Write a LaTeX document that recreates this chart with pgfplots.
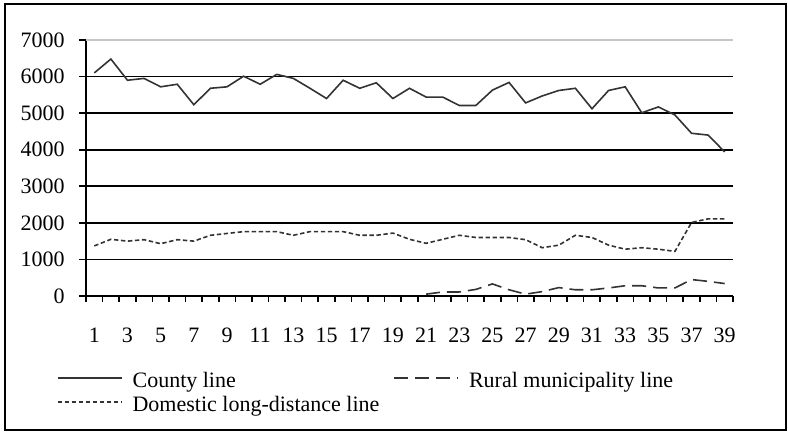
\documentclass[border=0pt]{standalone}
\usepackage{fontspec}
\setmainfont{Liberation Serif}
\usepackage{pgfplots}
\pgfplotsset{compat=1.18}
\definecolor{series}{HTML}{333333}

\begin{document}
\fontsize{11pt}{13pt}\selectfont
\begin{tikzpicture}
\begin{axis}[
  scale only axis, width=323.5pt, height=128pt,
  xmin=0.5, xmax=39.5, ymin=0, ymax=7000,
  axis x line=bottom, axis y line=left,
  axis line style={-, line width=1pt, black},
  xtick={1,3,...,39},
  minor xtick={0.5,1.5,...,39.5},
  ytick={0,1000,...,6000},
  extra y ticks={7000},
  extra y tick style={grid style={gray!45, line width=0.8pt}},
  ymajorgrids, grid style={black, line width=0.9pt},
  tick align=outside,
  major tick length=3.5pt, minor tick length=3pt,
  tick style={black, line width=0.8pt},
  major x tick style={draw=none},
  scaled ticks=false,
  /pgf/number format/set thousands separator={},
  /pgf/number format/assume math mode=true,
  tick label style={font=\fontsize{11pt}{13pt}\selectfont},
  xticklabel style={yshift=-8.6pt},
  yticklabel style={xshift=-3.3pt},
  legend columns=2,
  legend cell align=left,
  legend style={at={(0,0)}, anchor=north west, xshift=-14.5pt, yshift=-38pt,
    draw=none, fill=none, inner sep=0pt, outer sep=0pt,
    font=\fontsize{11pt}{13pt}\selectfont,
    nodes={inner sep=0pt, text height=8pt, text depth=2.5pt},
    row sep=1.5pt,
    /tikz/every odd column/.append style={column sep=5pt},
    /tikz/every even column/.append style={column sep=7pt}},
  legend image code/.code={\draw[#1] (0pt,2.25pt) -- (32pt,2.25pt);},
]
% county line
\addplot[series, line width=0.8pt] coordinates {
(1,6100) (2,6480) (3,5900) (4,5950) (5,5720) (6,5790) (7,5230) (8,5680)
(9,5720) (10,6010) (11,5790) (12,6060) (13,5950) (14,5680) (15,5400)
(16,5900) (17,5680) (18,5830) (19,5400) (20,5680) (21,5440) (22,5440)
(23,5210) (24,5210) (25,5630) (26,5840) (27,5280) (28,5470) (29,5620)
(30,5680) (31,5120) (32,5620) (33,5720) (34,5010) (35,5170) (36,4950)
(37,4450) (38,4400) (39,3940)
};
% rural municipality line
\addplot[series, line width=0.8pt, dash pattern=on 7pt off 3.5pt] coordinates {
(21,50) (22,110) (23,110) (24,180) (25,330) (26,170) (27,50) (28,120)
(29,230) (30,170) (31,170) (32,220) (33,280) (34,280) (35,220) (36,220)
(37,450) (38,400) (39,340)
};
% domestic long-distance line
\addplot[series, line width=0.8pt, dash pattern=on 2.2pt off 1.3pt] coordinates {
(1,1370) (2,1550) (3,1500) (4,1540) (5,1430) (6,1540) (7,1500) (8,1660)
(9,1710) (10,1760) (11,1760) (12,1760) (13,1660) (14,1760) (15,1760)
(16,1760) (17,1660) (18,1660) (19,1720) (20,1550) (21,1440) (22,1550)
(23,1660) (24,1600) (25,1600) (26,1600) (27,1540) (28,1320) (29,1390)
(30,1660) (31,1600) (32,1390) (33,1280) (34,1320) (35,1280) (36,1220)
(37,2010) (38,2110) (39,2110)
};
\legend{County line, Rural municipality line, Domestic long-distance line}
\coordinate (sw) at (rel axis cs:0,0);
\coordinate (ne) at (rel axis cs:1,1);
\end{axis}
\draw[black, line width=0.7pt] ([xshift=-40.5pt, yshift=-67pt]sw) rectangle ([xshift=26.5pt, yshift=18pt]ne);
\pgfresetboundingbox
\path[use as bounding box] ([xshift=-43pt, yshift=-68pt]sw) rectangle ([xshift=27.5pt, yshift=20pt]ne);
\end{tikzpicture}
\end{document}
